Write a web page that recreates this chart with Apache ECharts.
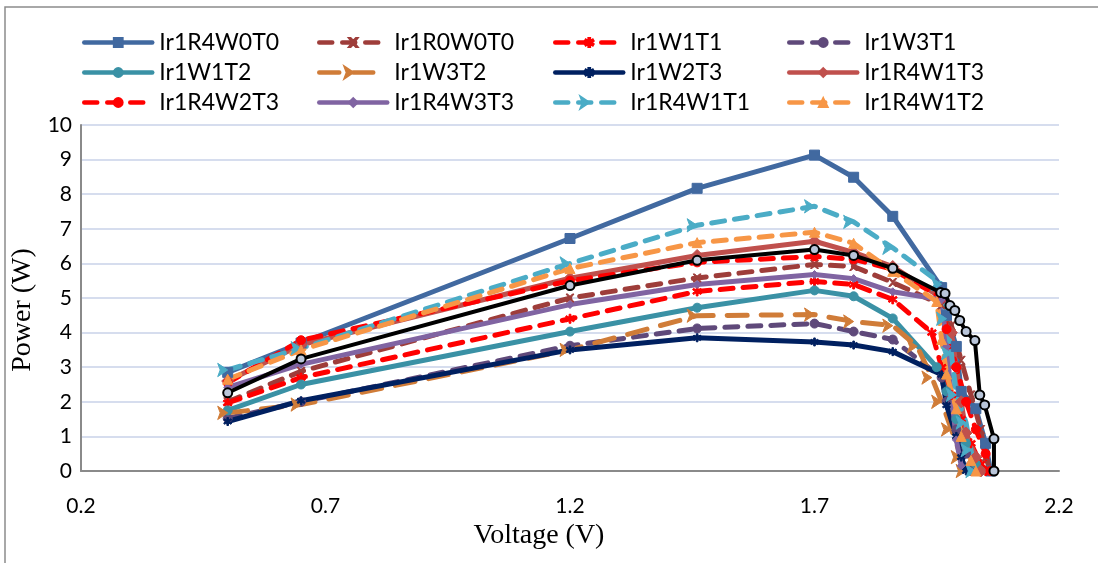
<!DOCTYPE html>
<html>
<head>
<meta charset="utf-8">
<script src="https://cdn.jsdelivr.net/npm/echarts@6/dist/echarts.min.js"></script>
<style>
  html, body { margin: 0; padding: 0; background: #fff; }
  #chart { width: 1098px; height: 563px; }
</style>
</head>
<body>
<div id="chart"></div>
<script>
// [voltage, power] pairs
const r4w0t0 = [[0.5, 2.85], [0.65, 3.7], [1.2, 6.72], [1.46, 8.17], [1.7, 9.13], [1.78, 8.49], [1.86, 7.36], [1.96, 5.3], [1.97, 4.5], [1.99, 3.6], [2.0, 2.3], [2.03, 1.8], [2.05, 0.8], [2.06, 0]];
const r0w0t0 = [[0.5, 2.0], [0.65, 2.88], [1.2, 5.0], [1.46, 5.58], [1.7, 5.97], [1.78, 5.91], [1.86, 5.45], [1.96, 4.8], [1.98, 4.2], [2.0, 3.2], [2.02, 2.2], [2.04, 1.2], [2.05, 0.4], [2.06, 0]];
const w1t1 = [[0.5, 1.97], [0.65, 2.7], [1.2, 4.4], [1.46, 5.19], [1.7, 5.48], [1.78, 5.39], [1.86, 4.96], [1.94, 4.0], [1.96, 3.0], [1.98, 2.2], [2.0, 1.5], [2.02, 0.8], [2.04, 0.2], [2.05, 0]];
const w3t1 = [[0.5, 1.52], [0.65, 2.0], [1.2, 3.62], [1.46, 4.12], [1.7, 4.26], [1.78, 4.03], [1.86, 3.8], [1.96, 2.7], [1.97, 2.0], [1.99, 1.2], [2.01, 0.5], [2.02, 0]];
const w1t2 = [[0.5, 1.75], [0.65, 2.5], [1.2, 4.03], [1.46, 4.72], [1.7, 5.22], [1.78, 5.05], [1.86, 4.41], [1.95, 3.0], [1.97, 2.3], [1.99, 1.5], [2.01, 0.8], [2.03, 0.2], [2.04, 0]];
const w3t2 = [[0.5, 1.68], [0.65, 1.92], [1.2, 3.5], [1.46, 4.49], [1.7, 4.52], [1.78, 4.32], [1.86, 4.2], [1.91, 3.6], [1.94, 2.7], [1.96, 2.0], [1.98, 1.2], [2.0, 0.4], [2.01, 0]];
const w2t3 = [[0.5, 1.43], [0.65, 2.03], [1.2, 3.5], [1.46, 3.85], [1.7, 3.73], [1.78, 3.64], [1.86, 3.45], [1.96, 2.78], [1.97, 1.9], [1.99, 1.0], [2.0, 0.4], [2.01, 0]];
const r4w1t3 = [[0.5, 2.6], [0.65, 3.65], [1.2, 5.57], [1.46, 6.23], [1.7, 6.64], [1.78, 6.32], [1.86, 5.91], [1.96, 5.0], [1.98, 4.0], [1.99, 3.0], [2.0, 2.0], [2.01, 1.1], [2.03, 0.4], [2.04, 0]];
const r4w2t3 = [[0.5, 2.55], [0.65, 3.78], [1.2, 5.5], [1.46, 6.03], [1.7, 6.2], [1.78, 6.12], [1.86, 5.83], [1.96, 5.0], [1.97, 4.1], [1.99, 3.0], [2.01, 2.0], [2.03, 1.2], [2.05, 0.5], [2.06, 0]];
const r4w3t3 = [[0.5, 2.42], [0.65, 3.08], [1.2, 4.81], [1.46, 5.39], [1.7, 5.68], [1.78, 5.56], [1.86, 5.18], [1.96, 4.95], [1.97, 3.6], [1.98, 2.2], [1.99, 0.9], [2.0, 0.15]];
const r4w1t1 = [[0.5, 2.92], [0.65, 3.55], [1.2, 6.0], [1.46, 7.1], [1.7, 7.65], [1.78, 7.2], [1.86, 6.45], [1.96, 5.4], [1.97, 4.4], [1.98, 3.4], [1.99, 2.2], [2.01, 1.4], [2.02, 0.6], [2.03, 0]];
const r4w1t2 = [[0.5, 2.65], [0.65, 3.5], [1.2, 5.85], [1.46, 6.6], [1.7, 6.9], [1.78, 6.58], [1.86, 5.77], [1.95, 4.9], [1.96, 3.8], [1.97, 2.8], [1.99, 1.8], [2.0, 1.0], [2.02, 0.3], [2.03, 0]];
const extraBlack = [[0.5, 2.26], [0.65, 3.24], [1.2, 5.36], [1.46, 6.09], [1.7, 6.4], [1.78, 6.23], [1.86, 5.86], [1.958, 5.16], [1.967, 5.13], [1.977, 4.78], [1.987, 4.64], [1.997, 4.35], [2.01, 4.03], [2.028, 3.77], [2.038, 2.2], [2.048, 1.91], [2.067, 0.93], [2.067, 0]];

const legendCols = [
  ['Ir1R4W0T0', 'Ir1W1T2', 'Ir1R4W2T3'],
  ['Ir1R0W0T0', 'Ir1W3T2', 'Ir1R4W3T3'],
  ['Ir1W1T1', 'Ir1W2T3', 'Ir1R4W1T1'],
  ['Ir1W3T1', 'Ir1R4W1T3', 'Ir1R4W1T2']
];
const legendLefts = [77, 312, 548, 782];

const cross = 'path://M0,0L2,0L5,3L8,0L10,0L6,5L10,10L8,10L5,7L2,10L0,10L4,5Z';
const star = 'path://M4,0L6,0L6,3.5L9,1.5L10,3.2L7,5L10,6.8L9,8.5L6,6.5L6,10L4,10L4,6.5L1,8.5L0,6.8L3,5L0,3.2L1,1.5L4,3.5Z';
const dash = [13, 10];

function line(name, data, color, type, symbol, size, extra) {
  return Object.assign({
    name: name,
    type: 'line',
    data: data,
    symbol: symbol,
    symbolSize: size,
    showSymbol: true,
    lineStyle: { color: color, width: 5, type: type, cap: 'round' },
    itemStyle: { color: color, borderColor: color, borderWidth: 1 },
    z: 2
  }, extra || {});
}

const chart = echarts.init(document.getElementById('chart'));
chart.setOption({
  animation: false,
  textStyle: { fontFamily: 'Lato' },
  grid: { left: 81, right: 39, top: 125, bottom: 92 },
  legend: legendCols.map((col, i) => ({
    data: col,
    orient: 'vertical',
    left: legendLefts[i],
    top: 26,
    itemWidth: 68,
    itemHeight: 11,
    itemGap: 7,
    lineStyle: { width: 4.5 },
    textStyle: { fontFamily: 'Lato', fontSize: 23, color: '#000', padding: [0, 0, 0, 2] }
  })),
  graphic: [{
    type: 'rect',
    shape: { x: 5, y: 7, width: 1200, height: 700 },
    style: { fill: 'none', stroke: '#8c8c8c', lineWidth: 1.5 },
    silent: true
  }],
  xAxis: {
    type: 'value',
    min: 0.2,
    max: 2.2,
    interval: 0.5,
    name: 'Voltage (V)',
    nameLocation: 'middle',
    nameGap: 50,
    nameTextStyle: { fontFamily: 'Liberation Serif', fontSize: 28, color: '#000', padding: [0, 62, 0, 0] },
    axisLine: { lineStyle: { color: '#8a8a8a', width: 2 } },
    axisTick: { show: false },
    splitLine: { show: false },
    axisLabel: { fontFamily: 'Lato', fontSize: 21, color: '#000', margin: 25, formatter: v => v.toFixed(1) }
  },
  yAxis: {
    type: 'value',
    min: 0,
    max: 10,
    interval: 1,
    name: 'Power (W)',
    nameLocation: 'middle',
    nameGap: 36,
    nameTextStyle: { fontFamily: 'Liberation Serif', fontSize: 28, color: '#000', padding: [0, 24, 0, 0] },
    axisLine: { show: true, lineStyle: { color: '#8a8a8a', width: 2 } },
    axisTick: { show: false },
    splitLine: { lineStyle: { color: '#c8d2e8', width: 1.5 } },
    axisLabel: { fontFamily: 'Lato', fontSize: 21, color: '#000', margin: 9 }
  },
  series: [
    line('Ir1R4W0T0', r4w0t0, '#4169a0', 'solid', 'rect', 10),
    line('Ir1R0W0T0', r0w0t0, '#9e3d3a', dash, cross, 8),
    line('Ir1W1T1', w1t1, '#ff0000', dash, star, 9),
    line('Ir1W3T1', w3t1, '#5f497a', dash, 'circle', 9),
    line('Ir1W1T2', w1t2, '#3a91a5', 'solid', 'circle', 9),
    line('Ir1W3T2', w3t2, '#d07c38', [20, 14], 'arrow', 10, { symbolRotate: -90 }),
    line('Ir1W2T3', w2t3, '#002060', 'solid', star, 8),
    line('Ir1R4W1T3', r4w1t3, '#c0504d', 'solid', 'diamond', 12),
    line('Ir1R4W2T3', r4w2t3, '#ff0000', dash, 'circle', 9),
    line('Ir1R4W3T3', r4w3t3, '#8064a2', 'solid', 'diamond', 8),
    line('Ir1R4W1T1', r4w1t1, '#4bacc6', dash, 'arrow', 10, { symbolRotate: -90 }),
    line('Ir1R4W1T2', r4w1t2, '#f79646', dash, 'triangle', 10),
    {
      name: 'extra',
      type: 'line',
      data: extraBlack,
      symbol: 'circle',
      symbolSize: 9,
      showSymbol: true,
      lineStyle: { color: '#000', width: 4 },
      itemStyle: { color: '#b9c5d9', borderColor: '#000', borderWidth: 2 },
      z: 3
    }
  ]
});
</script>
</body>
</html>
